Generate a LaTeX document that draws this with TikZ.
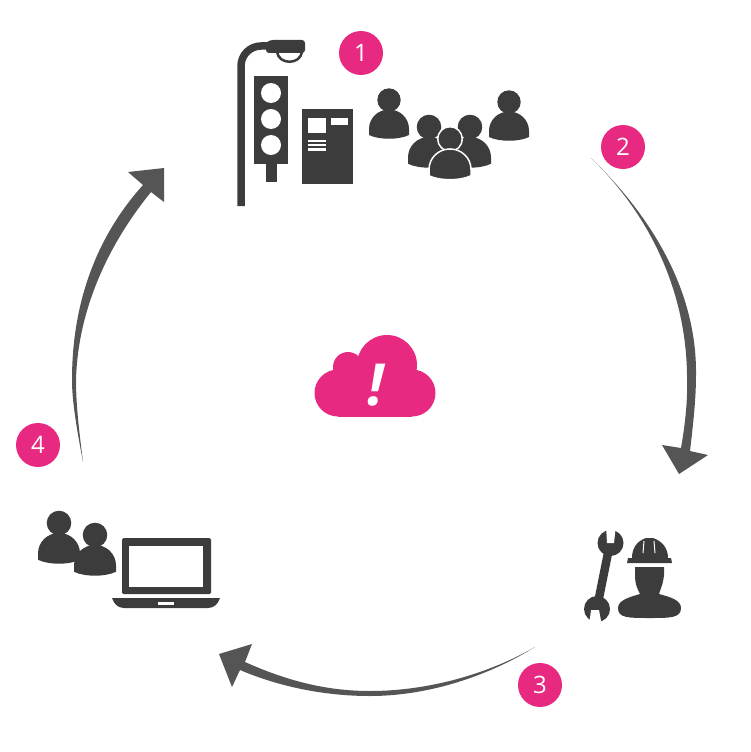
\documentclass[tikz,border=0pt]{standalone}
\usepackage{fontspec}
\setmainfont{Open Sans}
\definecolor{pinkc}{HTML}{E72982}
\definecolor{iconc}{HTML}{3C3C3C}
\definecolor{arrowc}{HTML}{555555}
\tikzset{
  badge/.style={circle, fill=pinkc, text=white, minimum size=44pt, inner sep=0pt, font=\fontsize{24}{24}\selectfont},
  arrowshape/.style={fill=arrowc},
  icon/.style={fill=iconc},
  hole/.style={fill=white},
  pics/person/.style={code={
    \path[pic actions] (0,0) circle (11.7);
    \path[pic actions] (-20,35) -- (-20,29) .. controls (-20,18) and (-11,9.5) .. (0,9.5) .. controls (11,9.5) and (20,18) .. (20,29) -- (20,35) .. controls (10,40) and (-10,40) .. cycle;
  }}
}
\begin{document}
\begin{tikzpicture}[x=1pt,y=-1pt]
\useasboundingbox (0,0) rectangle (750,752);
\coordinate (tipb) at (591,158);
\coordinate (tipc) at (535,647);
\coordinate (tipd) at (83,462);
\fill[arrowshape] (tipb) .. controls (651,216) and (697,290) .. (696,375) .. controls (696,400) and (693,425) .. (690,451) -- (708,455) -- (679,474) -- (662,445) -- (681,448) .. controls (685,425) and (688,400) .. (687,375) .. controls (686,290) and (649,214) .. (tipb);
\fill[arrowshape] (tipc) .. controls (490,675) and (430,696) .. (370,696) .. controls (325,696) and (280,687) .. (240,670) -- (232,687) -- (219,654) -- (252,644) -- (245,662) .. controls (285,680) and (325,691) .. (370,691) .. controls (430,691) and (490,673) .. (tipc);
\fill[arrowshape] (tipd) .. controls (76,425) and (72,400) .. (72,380) .. controls (72,300) and (98,235) .. (143,185) -- (128,172) -- (164,168) -- (164,202) -- (151,192) .. controls (112,240) and (78,305) .. (76,380) .. controls (76,405) and (79,430) .. (tipd);
\node[badge] (one) at (361,53) {1};
\node[badge] (two) at (623,147) {2};
\node[badge] (three) at (540,685) {3};
\node[badge] (four) at (38,445) {4};
\fill[pinkc] (338,393) circle (23.5);
\fill[pinkc] (412,393) circle (23.5);
\fill[pinkc] (387,365) circle (30);
\fill[pinkc] (348,367) circle (15);
\fill[pinkc] (338,380) rectangle (412,416.5);
\fill[pinkc] (345,365) rectangle (400,385);
\node[text=white, inner sep=0pt, font=\fontsize{58}{58}\selectfont\bfseries\itshape] (alert) at (376,385) {!};
\draw[iconc, line width=7.5pt] (241,206) -- (241,66) .. controls (241,55) and (250,46) .. (261,46) -- (270,46);
\draw[iconc, line width=2.5pt, fill=white] (277,52) .. controls (279,65) and (300,65) .. (302,52);
\fill[icon, rounded corners=3pt] (266,43) -- (270,40) -- (305,40) -- (305,53) -- (266,53) -- cycle;
\fill[icon] (254,76) rectangle (288,164);
\fill[icon] (266,164) rectangle (277,182);
\foreach \lampy in {93,119,145}
  \fill[hole] (271,\lampy) circle (10);
\fill[icon] (302,109) rectangle (353,184);
\fill[hole] (308,118) rectangle (326,133);
\fill[hole] (331,118) rectangle (348,125);
\foreach \liney in {140,144,148.3}
  \fill[hole] (308,\liney) rectangle (326,\liney+2.2);
\pic[icon] at (389,100) {person};
\pic[icon] at (509,102) {person};
\pic[icon, scale=1.05] at (429,127) {person};
\pic[icon, scale=1.05] at (470,127) {person};
\pic[icon, draw=white, line width=1.5pt, scale=1.05] at (450,139) {person};
\pic[icon, scale=1.05] at (59,523) {person};
\pic[icon, scale=1.05] at (95,535) {person};
\fill[icon, rounded corners=1.5pt] (122,538) rectangle (211,594);
\fill[hole] (129,546) rectangle (203,587);
\fill[icon] (112,598) -- (220,598) .. controls (218,604) and (214,608) .. (208,608) -- (124,608) .. controls (118,608) and (114,604) .. (112,598) -- cycle;
\fill[hole] (158,602) rectangle (174,605);
\draw[iconc, line width=8.5pt] (610,543) -- (597,608);
\fill[icon] (610.5,543) circle (13);
\fill[icon] (597,609) circle (13);
\fill[hole] (606,525) -- (616,525) -- (614,543) -- (607,543) -- cycle;
\fill[hole] (591,610) -- (599,610) -- (602,626) -- (589,626) -- cycle;
\fill[icon] (627,563) -- (672,563) -- (671,558) -- (668,558) .. controls (668,548) and (662,541) .. (653,538) -- (646,538) .. controls (637,541) and (632,548) .. (632,558) -- (628,558) -- cycle;
\draw[white, line width=1pt] (644,541) -- (643,553);
\draw[white, line width=1pt] (654,541) -- (655,553);
\fill[icon] (635,567) -- (664,567) -- (664,575) .. controls (663,585) and (660,590) .. (659,594) .. controls (670,597) and (681,600) .. (681,608) .. controls (681,618) and (670,618) .. (650,618) .. controls (628,618) and (618,618) .. (618,608) .. controls (618,600) and (630,597) .. (640,594) .. controls (638,590) and (635,585) .. (635,575) -- cycle;
\end{tikzpicture}
\end{document}
